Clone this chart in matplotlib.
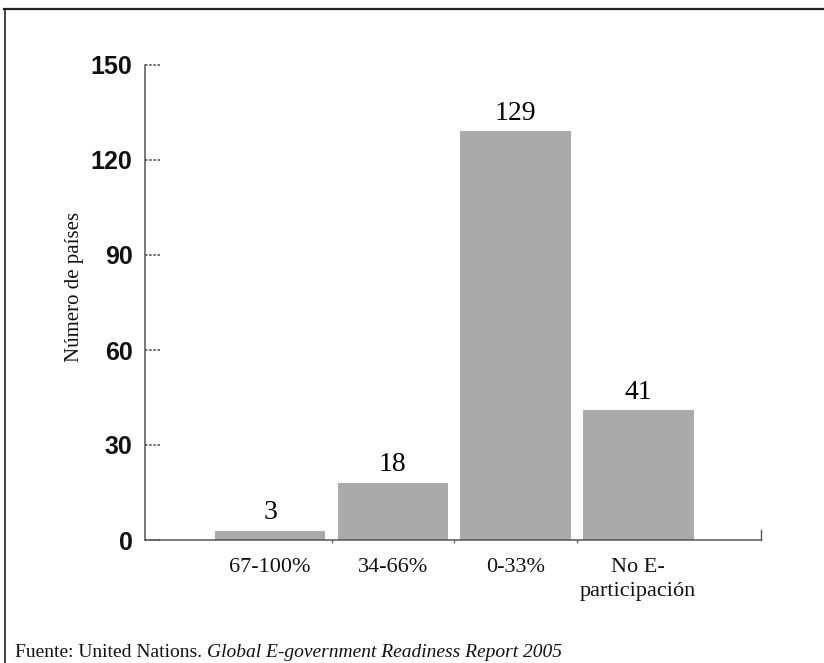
import matplotlib
matplotlib.use("Agg")
import matplotlib.pyplot as plt
import matplotlib.transforms as mtransforms
from matplotlib.lines import Line2D

categories = ["67-100%", "34-66%", "0-33%", "No E-\nparticipación"]
values = [3, 18, 129, 41]
yticks = [0, 30, 60, 90, 120, 150]
ylabel = "Número de países"
source_plain = "Fuente: United Nations. "
source_italic = "Global E-government Readiness Report 2005"

W, H = 824, 663
fig = plt.figure(figsize=(W / 100, H / 100), dpi=100)
fig.patch.set_facecolor("white")

ax = fig.add_axes([145 / W, 1 - 540 / H, (761 - 145) / W, (540 - 65) / H])
x = list(range(len(values)))
ax.bar(x, values, width=0.9, color="#aaaaaa", edgecolor="none", zorder=2)
ax.set_xlim(-1.02, 4.0)
ax.set_ylim(0, 150)

serif = ["Liberation Serif", "DejaVu Serif"]
sans = ["Liberation Sans", "DejaVu Sans"]

for xi, v in zip(x, values):
    ax.annotate(str(v), (xi, v), xytext=(0, 4), textcoords="offset points",
                ha="center", va="bottom", fontsize=20, family=serif,
                color="#000000")

for s in ["top", "right"]:
    ax.spines[s].set_visible(False)
for s in ["left", "bottom"]:
    ax.spines[s].set_linestyle((0, (1, 1)))
    ax.spines[s].set_color("#555555")
    ax.spines[s].set_linewidth(1.1)

ax.set_yticks(yticks)
ax.set_yticklabels([str(t) for t in yticks], family=sans, fontsize=18,
                   fontweight="bold", color="#111111")
ax.tick_params(axis="y", length=0, pad=9)
# dotted inward tick marks
ytr = mtransforms.blended_transform_factory(ax.transAxes, ax.transData)
for t in yticks:
    ax.plot([0, 0.024], [t, t], transform=ytr, color="#555555", lw=1.2,
            linestyle=(0, (1.5, 1)), clip_on=False)

ax.set_xticks(x)
ax.set_xticklabels(categories, family=serif, fontsize=16, color="#111111",
                   linespacing=1.35)
ax.tick_params(axis="x", length=0, pad=13)

ax.set_xticks([0.5, 1.5, 2.5], minor=True)
ax.tick_params(axis="x", which="minor", direction="out", length=2.5,
               color="#666666", width=1.0)
# upward tick at right end of x axis
ax.plot([1, 1], [0, 0.022], transform=ax.transAxes, color="#555555",
        lw=1.0, clip_on=False)

fig.text(74 / W, 1 - 287 / H, ylabel, rotation=90, ha="center", va="center",
         fontsize=15, family=serif, color="#111111")

# frame lines (top and left)
fig.add_artist(Line2D([4 / W, 1], [1 - 9 / H, 1 - 9 / H], color="#222222", lw=1.6,
                      transform=fig.transFigure))
fig.add_artist(Line2D([5 / W, 5 / W], [0, 1 - 9 / H], color="#222222", lw=1.2,
                      transform=fig.transFigure))

t1 = fig.text(15 / W, 1 - 657 / H, source_plain, fontsize=14, family=serif,
              ha="left", va="baseline", color="#111111")
fig.canvas.draw()
bb = t1.get_window_extent()
fig.text(bb.x1 / W, 1 - 657 / H, source_italic, fontsize=14, family=serif,
         style="italic", ha="left", va="baseline", color="#111111")

fig.savefig("out.png", dpi=100)
